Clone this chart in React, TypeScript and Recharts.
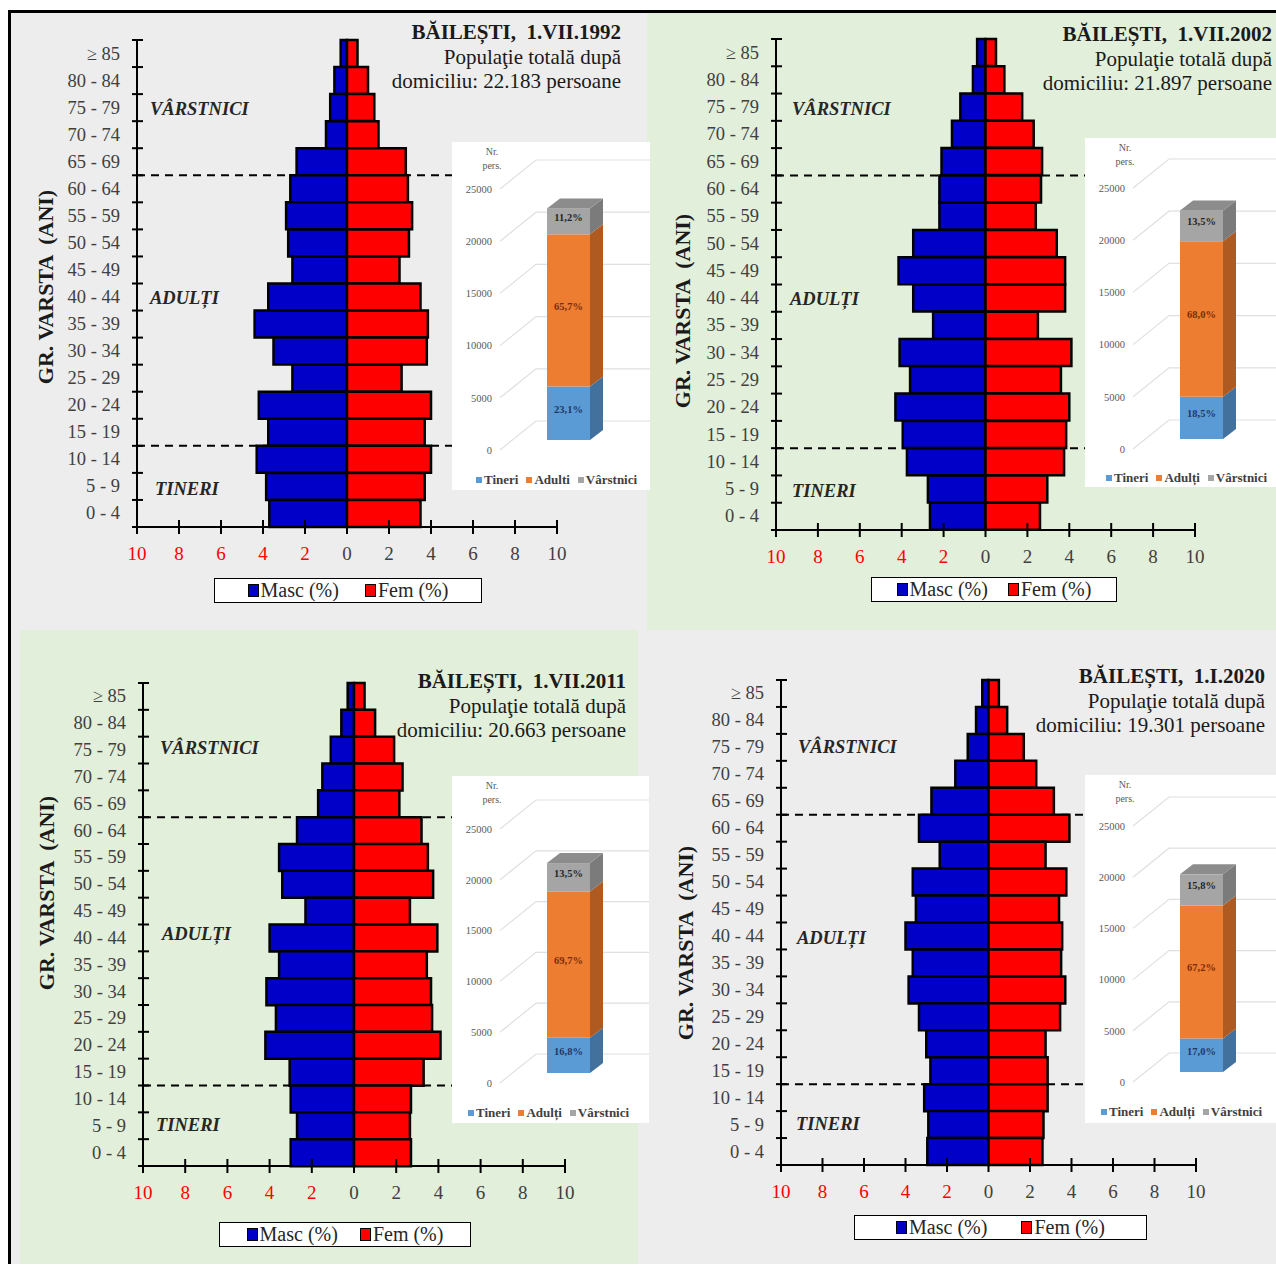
import React from 'react'
import { BarChart, Bar, XAxis, YAxis, Legend, ReferenceLine, CartesianGrid, LabelList } from 'recharts'

const SERIF = '"Liberation Serif", "Times New Roman", serif'

const ageGroups = ['≥ 85', '80 - 84', '75 - 79', '70 - 74', '65 - 69', '60 - 64', '55 - 59', '50 - 54', '45 - 49',
  '40 - 44', '35 - 39', '30 - 34', '25 - 29', '20 - 24', '15 - 19', '10 - 14', '5 - 9', '0 - 4']
const xTicks = [-10, -8, -6, -4, -2, 0, 2, 4, 6, 8, 10]

// % din populatia totala, de sus (>=85) in jos (0-4)
const masc1992 = [0.3, 0.6, 0.8, 1.0, 2.4, 2.7, 2.9, 2.8, 2.6, 3.75, 4.4, 3.5, 2.6, 4.2, 3.75, 4.3, 3.85, 3.7]
const fem1992 = [0.5, 1.0, 1.3, 1.5, 2.8, 2.9, 3.1, 2.95, 2.5, 3.5, 3.85, 3.8, 2.6, 4.0, 3.7, 4.0, 3.7, 3.5]
const masc2002 = [0.4, 0.6, 1.2, 1.6, 2.1, 2.2, 2.2, 3.45, 4.15, 3.45, 2.5, 4.1, 3.6, 4.3, 3.95, 3.75, 2.75, 2.65]
const fem2002 = [0.5, 0.9, 1.75, 2.3, 2.7, 2.65, 2.4, 3.4, 3.8, 3.8, 2.5, 4.1, 3.6, 4.0, 3.85, 3.75, 2.95, 2.6]
const masc2011 = [0.3, 0.6, 1.1, 1.5, 1.7, 2.7, 3.55, 3.4, 2.3, 4.0, 3.55, 4.15, 3.7, 4.2, 3.05, 3.0, 2.7, 3.0]
const fem2011 = [0.5, 1.0, 1.9, 2.3, 2.15, 3.2, 3.5, 3.75, 2.65, 3.95, 3.45, 3.65, 3.7, 4.1, 3.3, 2.7, 2.65, 2.7]
const masc2020 = [0.3, 0.6, 1.0, 1.6, 2.75, 3.35, 2.35, 3.65, 3.5, 4.0, 3.65, 3.85, 3.35, 3.0, 2.8, 3.1, 2.9, 2.95]
const fem2020 = [0.5, 0.9, 1.7, 2.3, 3.15, 3.9, 2.75, 3.75, 3.4, 3.55, 3.5, 3.7, 3.45, 2.75, 2.85, 2.85, 2.65, 2.6]

// grupe mari de varsta (%), populatie totala
const groupKeys = ['tineri', 'adulti', 'varstnici']
const groupNames1992 = ['Tineri', 'Adulti', 'Vârstnici']
const groupNames = ['Tineri', 'Adulți', 'Vârstnici']
const pct1992 = [23.1, 65.7, 11.2]
const pct2002 = [18.5, 68.0, 13.5]
const pct2011 = [16.8, 69.7, 13.5]
const pct2020 = [17.0, 67.2, 15.8]
const totals = [22183, 21897, 20663, 19301]
const totalLabels = ['22.183', '21.897', '20.663', '19.301']
const dates = ['1.VII.1992', '1.VII.2002', '1.VII.2011', '1.I.2020']
const insetTicks = [0, 5000, 10000, 15000, 20000, 25000]

const MASC = '#0000c8'
const FEM = '#ff0000'
const sexKeys = ['masc', 'fem']
const sexColors: Record<string, string> = { masc: MASC, fem: FEM }
const groupFront = ['#5b9bd5', '#ed7d31', '#a5a5a5']
const groupSide = ['#41719c', '#ae5a21', '#7b7b7b']
const groupLabel = ['#1f3864', '#7b2c0a', '#262626']

const YW = 80, MT = 12, XH = 40, MB = 60, MR = 30

function XTick(props: any) {
  const { x, payload, axisY } = props
  const v = payload.value
  return (
    <g>
      <line x1={x} x2={x} y1={axisY - 7} y2={axisY + 7} stroke="#000" strokeWidth={2} />
      <text x={x} y={axisY + 26} textAnchor="middle" dominantBaseline="central" fontFamily={SERIF} fontSize={19}
        fill={v < 0 ? '#ff0000' : '#404040'}>{Math.abs(v)}</text>
    </g>
  )
}

function YTick(props: any) {
  const { y, payload, index, axisX, band } = props
  return (
    <g>
      <text x={axisX - 17} y={y} textAnchor="end" dominantBaseline="central" fontFamily={SERIF} fontSize={18.5}
        fill="#404040">{payload.value}</text>
      <line x1={axisX - 5} x2={axisX + 6} y1={y + band / 2} y2={y + band / 2} stroke="#000" strokeWidth={2} />
      {index === 0 && <line x1={axisX - 5} x2={axisX + 6} y1={y - band / 2} y2={y - band / 2} stroke="#000" strokeWidth={2} />}
    </g>
  )
}

function PyrLegend({ payload, width, gap }: any) {
  const items = [...(payload ?? [])].sort((a: any, b: any) => sexKeys.indexOf(a.dataKey) - sexKeys.indexOf(b.dataKey))
  return (
    <div style={{
      width, height: 25, boxSizing: 'border-box', border: '1.5px solid #000', background: '#fff', display: 'flex',
      alignItems: 'center', justifyContent: 'center', gap, fontFamily: SERIF, fontSize: 20, color: '#262626'
    }}>
      {items.map((e: any) => (
        <span key={String(e.dataKey)} style={{ display: 'flex', alignItems: 'center' }}>
          <span style={{ display: 'inline-block', width: 9, height: 11, background: sexColors[e.dataKey], border: '1.5px solid #000', marginRight: 2 }} />
          {e.value}
        </span>
      ))}
    </div>
  )
}

function Pyramid(p: any) {
  const data = ageGroups.map((g, i) => ({ group: g, masc: -p.masc[i], fem: p.fem[i] }))
  const band = p.plotH / ageGroups.length
  const W = YW + p.plotW + MR
  const H = MT + p.plotH + XH + MB
  const axisY = MT + p.plotH
  const ox = p.plotLeft - YW
  const oy = p.plotTop - MT
  return (
    <div style={{ position: 'absolute', left: ox, top: oy }}>
      <BarChart width={W} height={H} data={data} layout="vertical" stackOffset="sign" barCategoryGap={0}
        margin={{ top: MT, right: MR, bottom: MB, left: 0 }}>
        <XAxis type="number" domain={[-10, 10]} ticks={xTicks} height={XH} interval={0}
          axisLine={{ stroke: '#000', strokeWidth: 2 }} tickLine={false}
          tick={(t: any) => <XTick {...t} axisY={axisY} />} />
        <YAxis type="category" dataKey="group" width={YW} interval={0}
          axisLine={{ stroke: '#000', strokeWidth: 2 }} tickLine={false}
          tick={(t: any) => <YTick {...t} axisX={YW} band={band} />} />
        <ReferenceLine y="60 - 64" position="start" stroke="#000" strokeWidth={2} strokeDasharray="8 6" zIndex={0} />
        <ReferenceLine y="10 - 14" position="start" stroke="#000" strokeWidth={2} strokeDasharray="8 6" zIndex={0} />
        <Bar dataKey="masc" name="Masc (%)" stackId="s" fill={MASC} stroke="#000" strokeWidth={2.5} isAnimationActive={false} />
        <Bar dataKey="fem" name="Fem (%)" stackId="s" fill={FEM} stroke="#000" strokeWidth={2.5} isAnimationActive={false} />
        <Legend layout="horizontal" verticalAlign="middle" align="center"
          wrapperStyle={{ left: p.legendLeft - ox, top: p.legendTop - oy, width: p.legendW }}
          content={(lp: any) => <PyrLegend payload={lp.payload} width={p.legendW} gap={p.legendGap} />} />
      </BarChart>
    </div>
  )
}

function Box3D(props: any) {
  const { x, y, width, height, fill, side, top } = props
  if (!height || height <= 0) return null
  const dx = 13, dy = 10, sh = 10
  const yy = y - sh
  return (
    <g>
      <rect x={x} y={yy} width={width} height={height} fill={fill} />
      <polygon points={`${x + width},${yy} ${x + width + dx},${yy - dy} ${x + width + dx},${yy + height - dy} ${x + width},${yy + height}`} fill={side} />
      {top && <polygon points={`${x},${yy} ${x + dx},${yy - dy} ${x + width + dx},${yy - dy} ${x + width},${yy}`} fill="#8c8c8c" />}
    </g>
  )
}

function InsetLegend({ names, left, gap }: any) {
  return (
    <div style={{ display: 'flex', gap, fontFamily: SERIF, fontSize: 13, fontWeight: 'bold', color: '#404040', paddingLeft: left, whiteSpace: 'nowrap' }}>
      {names.map((n: string, i: number) => (
        <span key={n} style={{ display: 'flex', alignItems: 'center' }}>
          <span style={{ display: 'inline-block', width: 6, height: 6, background: groupFront[i], marginRight: 2 }} />{n}
        </span>
      ))}
    </div>
  )
}

function Inset(p: any) {
  const row: Record<string, any> = { cat: 'total' }
  groupKeys.forEach((k, i) => {
    row[k] = p.total * p.pct[i] / 100
    row[k + 'Lbl'] = p.pct[i].toFixed(1).replace('.', ',') + '%'
  })
  const IW = p.width
  const mr = IW - 44 - 145
  return (
    <div style={{ position: 'absolute', left: p.left, top: p.top, width: IW, height: p.height, background: '#fff', overflow: 'hidden' }}>
      <div style={{ position: 'absolute', left: 20, top: 3, width: 40, textAlign: 'center', fontFamily: SERIF, fontSize: 10, lineHeight: '14px', color: '#595959' }}>
        Nr.<br />pers.
      </div>
      <BarChart width={IW} height={p.height} data={[row]} barSize={43}
        margin={{ top: p.plotTop, right: mr, bottom: p.height - p.plotTop - p.plotH, left: 0 }}>
        <CartesianGrid vertical={false}
          horizontal={(g: any) => (
            <polyline key={g.key} points={`${g.x1 + 4},${g.y1} ${g.x1 + 40},${g.y1 - 29} ${IW},${g.y1 - 29}`}
              fill="none" stroke="#e0e0e0" strokeWidth={1.2} />
          )} />
        <XAxis dataKey="cat" hide />
        <YAxis type="number" domain={[0, 25000]} ticks={insetTicks} interval={0} width={44} tickSize={0} tickMargin={4}
          axisLine={false} tick={{ fill: '#595959', fontSize: 10.5, fontFamily: SERIF }} />
        {groupKeys.map((k, i) => (
          <Bar key={k} dataKey={k} name={p.names[i]} stackId="g" fill={groupFront[i]} isAnimationActive={false}
            shape={(sp: any) => <Box3D {...sp} fill={groupFront[i]} side={groupSide[i]} top={i === 2} />}>
            <LabelList dataKey={k + 'Lbl'} content={(lp: any) => (
              <text x={lp.x + lp.width / 2} y={lp.y + lp.height / 2 - 14} textAnchor="middle" dominantBaseline="central"
                fontFamily={SERIF} fontSize={10.5} fontWeight="bold" fill={groupLabel[i]}>{lp.value}</text>
            )} />
          </Bar>
        ))}
        <Legend layout="horizontal" verticalAlign="middle" align="center"
          wrapperStyle={{ left: 0, top: p.legendTop, width: IW }}
          content={() => <InsetLegend names={p.names} left={p.legendLeft} gap={8} />} />
      </BarChart>
    </div>
  )
}

function Title({ right, top, date, total }: any) {
  return (
    <div style={{ position: 'absolute', left: right - 340, top, width: 340, textAlign: 'right', fontFamily: SERIF, fontSize: 21, lineHeight: '24.5px', color: '#1a1a1a', whiteSpace: 'pre' }}>
      <div style={{ fontWeight: 'bold' }}>{`BĂILEȘTI,  ${date}`}</div>
      <div>Populaţie totală după</div>
      <div>{`domiciliu: ${total} persoane`}</div>
    </div>
  )
}

function Note({ text, left, cy }: any) {
  return (
    <div style={{ position: 'absolute', left, top: cy - 11, height: 22, lineHeight: '22px', fontFamily: SERIF, fontSize: 18.5, fontWeight: 'bold', fontStyle: 'italic', color: '#262626' }}>{text}</div>
  )
}

function AxisTitle({ cx, cy }: any) {
  return (
    <div style={{ position: 'absolute', left: cx, top: cy, transform: 'translate(-50%, -50%) rotate(-90deg)', fontFamily: SERIF, fontSize: 22, fontWeight: 'bold', color: '#1a1a1a', whiteSpace: 'pre' }}>
      GR. VARSTA  (ANI)
    </div>
  )
}

const panels = [
  { masc: masc1992, fem: fem1992, plotLeft: 137, plotTop: 40, plotW: 420, plotH: 487, legendLeft: 214, legendTop: 578, legendW: 268, legendGap: 26 },
  { masc: masc2002, fem: fem2002, plotLeft: 776, plotTop: 39, plotW: 419, plotH: 491, legendLeft: 871, legendTop: 577, legendW: 246, legendGap: 20 },
  { masc: masc2011, fem: fem2011, plotLeft: 143, plotTop: 683, plotW: 422, plotH: 483, legendLeft: 219, legendTop: 1222, legendW: 252, legendGap: 22 },
  { masc: masc2020, fem: fem2020, plotLeft: 781, plotTop: 680, plotW: 415, plotH: 485, legendLeft: 854, legendTop: 1215, legendW: 293, legendGap: 34 },
]

const insets = [
  { left: 452, top: 142, width: 198, height: 348, plotTop: 47, plotH: 261, pct: pct1992, names: groupNames1992, legendTop: 330, legendLeft: 24 },
  { left: 1085, top: 138, width: 205, height: 349, plotTop: 50, plotH: 261, pct: pct2002, names: groupNames, legendTop: 332, legendLeft: 21 },
  { left: 452, top: 776, width: 197, height: 347, plotTop: 53, plotH: 254, pct: pct2011, names: groupNames, legendTop: 329, legendLeft: 16 },
  { left: 1085, top: 775, width: 205, height: 348, plotTop: 51, plotH: 256, pct: pct2020, names: groupNames, legendTop: 329, legendLeft: 16 },
]

const titles = [
  { right: 621, top: 20 },
  { right: 1272, top: 22 },
  { right: 626, top: 669 },
  { right: 1265, top: 664 },
]

const notes = [
  [{ t: 'VÂRSTNICI', x: 150, y: 109 }, { t: 'ADULȚI', x: 150, y: 298 }, { t: 'TINERI', x: 155, y: 489 }],
  [{ t: 'VÂRSTNICI', x: 792, y: 109 }, { t: 'ADULȚI', x: 790, y: 299 }, { t: 'TINERI', x: 792, y: 491 }],
  [{ t: 'VÂRSTNICI', x: 160, y: 748 }, { t: 'ADULȚI', x: 162, y: 934 }, { t: 'TINERI', x: 156, y: 1125 }],
  [{ t: 'VÂRSTNICI', x: 798, y: 747 }, { t: 'ADULȚI', x: 797, y: 938 }, { t: 'TINERI', x: 796, y: 1124 }],
]

const axisTitles = [{ x: 46, y: 287 }, { x: 683, y: 311 }, { x: 47, y: 893 }, { x: 686, y: 943 }]

export default function App() {
  return (
    <div style={{ position: 'absolute', left: 0, top: 0, width: 1276, height: 1264, overflow: 'hidden', background: '#fff' }}>
      <div style={{ position: 'absolute', left: 11, top: 13, width: 636, height: 617, background: '#ededed' }} />
      <div style={{ position: 'absolute', left: 647, top: 13, width: 629, height: 617, background: '#e2efda' }} />
      <div style={{ position: 'absolute', left: 11, top: 630, width: 9, height: 634, background: '#ededed' }} />
      <div style={{ position: 'absolute', left: 20, top: 630, width: 618, height: 634, background: '#e2efda' }} />
      <div style={{ position: 'absolute', left: 638, top: 630, width: 638, height: 634, background: '#ededed' }} />
      <div style={{ position: 'absolute', left: 8, top: 10, width: 1268, height: 3, background: '#000' }} />
      <div style={{ position: 'absolute', left: 8, top: 10, width: 3, height: 1254, background: '#000' }} />

      {panels.map((p, i) => <Pyramid key={i} {...p} />)}
      {titles.map((t, i) => <Title key={i} {...t} date={dates[i]} total={totalLabels[i]} />)}
      {notes.map((ns, i) => ns.map((n) => <Note key={i + n.t} text={n.t} left={n.x} cy={n.y} />))}
      {axisTitles.map((a, i) => <AxisTitle key={i} cx={a.x} cy={a.y} />)}
      {insets.map((s, i) => <Inset key={i} {...s} total={totals[i]} />)}
    </div>
  )
}
